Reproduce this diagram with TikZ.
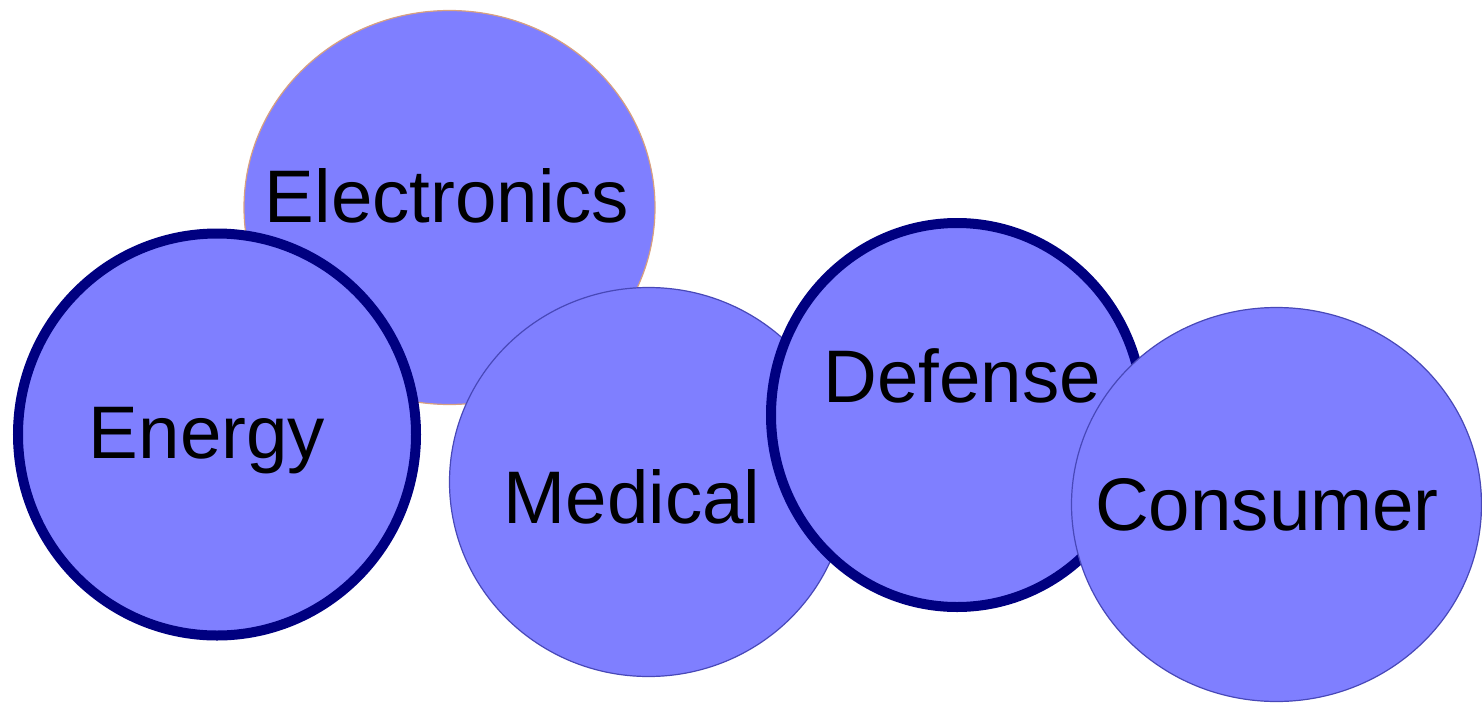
\documentclass[tikz,border=0pt]{standalone}
\usepackage{fontspec}
\setmainfont{Liberation Sans}
\usetikzlibrary{shapes.geometric}
\definecolor{bubble}{HTML}{7F7FFF}
\definecolor{navy}{HTML}{000080}
\definecolor{tanline}{HTML}{D8A080}
\definecolor{thinblue}{HTML}{4848B8}
\tikzset{
  bub/.style={ellipse, fill=bubble, inner sep=0pt, outer sep=0pt},
  thickrim/.style={bub, draw=navy, line width=10pt},
  thinrim/.style={bub, draw=thinblue, line width=1.2pt},
  tanrim/.style={bub, draw=tanline, line width=1.2pt},
  lbl/.style={anchor=base, inner sep=0pt, font=\fontsize{74.5}{80}\selectfont, text=black}
}
\begin{document}
\begin{tikzpicture}[x=1pt,y=-1pt]
\useasboundingbox (0,0) rectangle (1482,704);
\node[tanrim, minimum width=411pt, minimum height=394pt] (elec) at (449.5,207.5) {};
\node[thickrim, minimum width=398pt, minimum height=402pt] (ener) at (217,434.5) {};
\node[thinrim, minimum width=398pt, minimum height=389pt] (medi) at (648.5,482) {};
\node[thickrim, minimum width=372pt, minimum height=384pt] (defe) at (957,415) {};
\node[thinrim, minimum width=410pt, minimum height=394pt] (cons) at (1276.5,504.5) {};
\node[lbl] (elect) at (447,222) {Electronics};
\node[lbl] (enert) at (207,458) {Energy};
\node[lbl] (medit) at (632,523) {Medical};
\node[lbl] (defet) at (962,402) {Defense};
\node[lbl] (const) at (1267,530) {Consumer};
\end{tikzpicture}
\end{document}
